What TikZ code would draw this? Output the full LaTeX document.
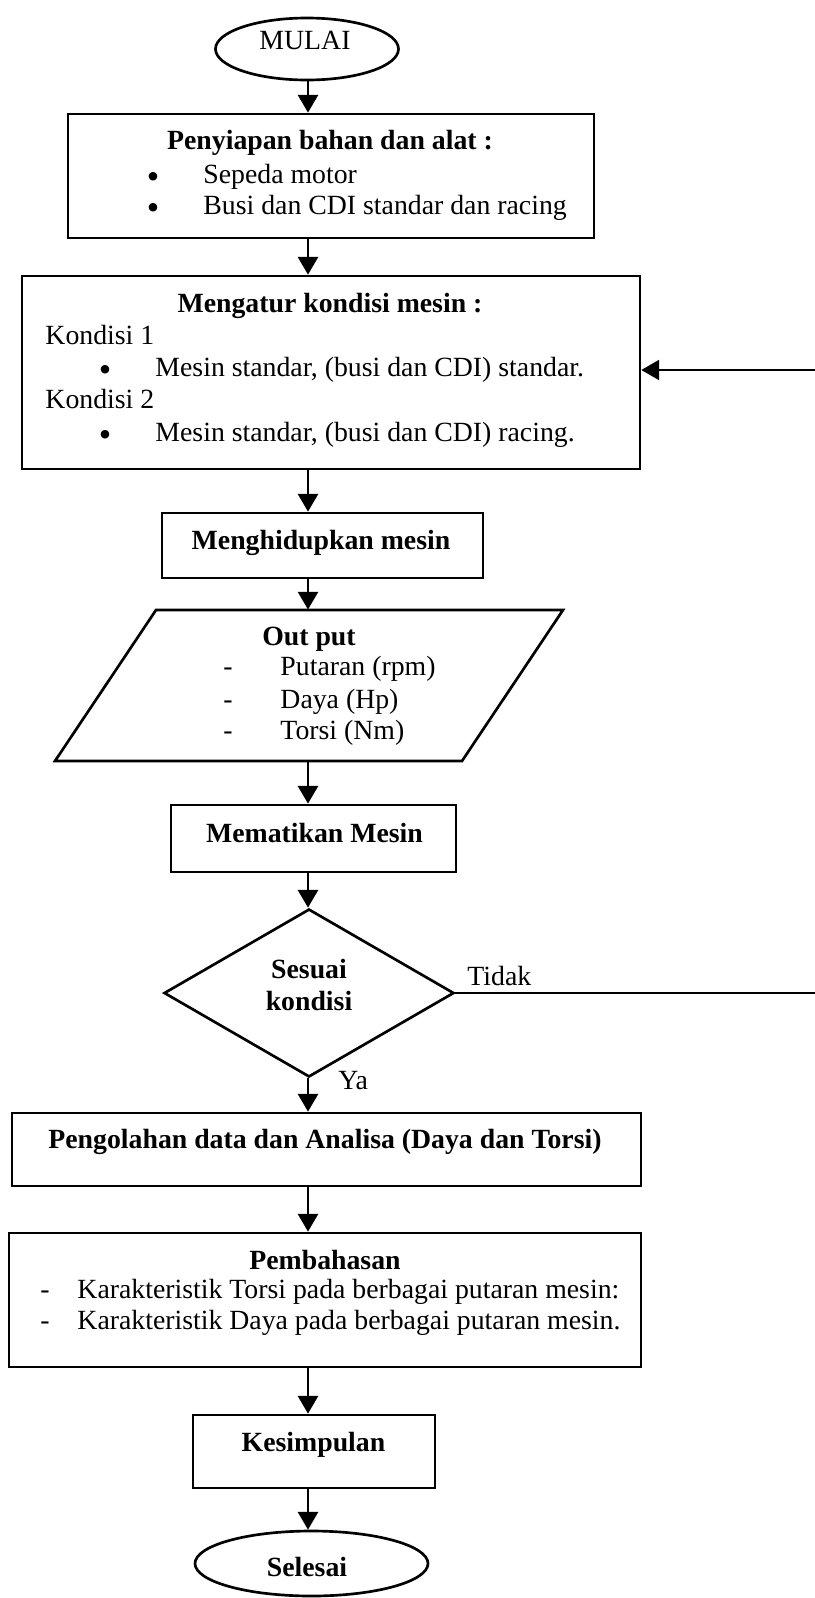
\documentclass[tikz,border=0pt]{standalone}
\usepackage{fontspec}
\setmainfont{Liberation Serif}
\usetikzlibrary{shapes.geometric}
\usetikzlibrary{arrows.meta}

\newcommand{\pxu}{0.45pt}

\tikzset{
  kotak/.style={draw, line width=1.2pt, inner sep=0pt},
  teks/.style={inner sep=0pt, text height=8pt, text depth=2.5pt, font=\fontsize{12.5}{14}\selectfont},
  tebal/.style={teks, font=\fontsize{12.5}{14}\selectfont\bfseries},
  titik/.style={inner sep=0pt, text height=10.6pt, text depth=0pt, font=\fontsize{16}{16}\selectfont},
  panah/.style={line width=1.2pt, -{Triangle[length=8pt,width=9pt]}},
  balik/.style={line width=0.9pt, -{Triangle[length=8pt,width=9pt]}},
}

\begin{document}
\begin{tikzpicture}[x=\pxu, y=-\pxu]
  \useasboundingbox (0,0) rectangle (814,1598);

  %% bentuk
  \node[kotak, ellipse, minimum width=183*\pxu, minimum height=62*\pxu] (mulai) at (307,49) {};
  \node[kotak, minimum width=526*\pxu, minimum height=124*\pxu] (siapbahan) at (331,176) {};
  \node[kotak, minimum width=618*\pxu, minimum height=193*\pxu] (atur) at (331,372.5) {};
  \node[kotak, minimum width=321*\pxu, minimum height=65*\pxu] (hidup) at (322.5,545.5) {};
  \node[inner sep=0pt, minimum width=508*\pxu, minimum height=151*\pxu] (keluaran) at (309,685.5) {};
  \draw[line width=1.2pt, line join=miter] (156,610) -- (563,610) -- (462,761) -- (55,761) -- cycle;
  \node[kotak, minimum width=285*\pxu, minimum height=67*\pxu] (mati) at (313.5,838.5) {};
  \node[kotak, diamond, minimum width=290*\pxu, minimum height=168*\pxu] (cek) at (309,993) {};
  \node[kotak, minimum width=629*\pxu, minimum height=73*\pxu] (olah) at (326.5,1149.5) {};
  \node[kotak, minimum width=632*\pxu, minimum height=134*\pxu] (bahas) at (325,1300) {};
  \node[kotak, minimum width=242*\pxu, minimum height=73*\pxu] (simpul) at (314,1451.5) {};
  \node[kotak, ellipse, minimum width=233*\pxu, minimum height=65*\pxu] (selesai) at (311.5,1563.5) {};

  %% teks
  \node[teks] (t-mulai) at (305,43) {MULAI};
  \node[tebal] (t-siap) at (330,143) {Penyiapan bahan dan alat :};
  \node[inner sep=0pt, anchor=base, font=\fontsize{16}{16}\selectfont] (b-siap) at (153,188.8)
    {\baselineskip=13.95pt\vtop{\hbox{\textbullet}\hbox{\textbullet}}};
  \node[teks, anchor=west] (t-siap1) at (203,177) {Sepeda motor};
  \node[teks, anchor=west] (t-siap2) at (203,208) {Busi dan CDI standar dan racing};
  \node[tebal] (t-atur) at (330,306) {Mengatur kondisi mesin :};
  \node[teks, anchor=west] (t-kond1) at (45,338) {Kondisi 1};
  \node[titik] (b-kond1) at (105,370) {\textbullet};
  \node[teks, anchor=west] (t-mesin1) at (155,370) {Mesin standar, (busi dan CDI) standar.};
  \node[teks, anchor=west] (t-kond2) at (45,402) {Kondisi 2};
  \node[titik] (b-kond2) at (105,435) {\textbullet};
  \node[teks, anchor=west] (t-mesin2) at (155,435) {Mesin standar, (busi dan CDI) racing.};
  \node[tebal] (t-hidup) at (321,543) {Menghidupkan mesin};
  \node[tebal] (t-out) at (309,639) {Out put};
  \node[teks] (d-out1) at (228,669) {-};
  \node[teks, anchor=west] (t-out1) at (280,669) {Putaran (rpm)};
  \node[teks] (d-out2) at (228,702) {-};
  \node[teks, anchor=west] (t-out2) at (280,702) {Daya (Hp)};
  \node[teks] (d-out3) at (228,733) {-};
  \node[teks, anchor=west] (t-out3) at (280,733) {Torsi (Nm)};
  \node[tebal] (t-mati) at (314.5,836) {Mematikan Mesin};
  \node[tebal] (t-cek1) at (309,972) {Sesuai};
  \node[tebal] (t-cek2) at (309,1004) {kondisi};
  \node[teks, anchor=west] (t-tidak) at (467,979) {Tidak};
  \node[teks, anchor=west] (t-ya) at (338,1083) {Ya};
  \node[tebal] (t-olah) at (325,1142) {Pengolahan data dan Analisa (Daya dan Torsi)};
  \node[tebal] (t-bahas) at (325,1263) {Pembahasan};
  \node[teks] (d-bahas1) at (45,1292) {-};
  \node[teks, anchor=west] (t-bahas1) at (77,1292) {Karakteristik Torsi pada berbagai putaran mesin:};
  \node[teks] (d-bahas2) at (45,1323) {-};
  \node[teks, anchor=west] (t-bahas2) at (77,1323) {Karakteristik Daya pada berbagai putaran mesin.};
  \node[tebal] (t-simpul) at (313.5,1445) {Kesimpulan};
  \node[tebal] (t-selesai) at (307,1570) {Selesai};

  %% panah
  \coordinate (tulang) at (308,0);
  \coordinate (kanan1) at (822,370);
  \coordinate (kanan2) at (822,994);
  \draw[panah] (mulai.south -| tulang) -- (siapbahan.north -| tulang);
  \draw[panah] (siapbahan.south -| tulang) -- (atur.north -| tulang);
  \draw[panah] (atur.south -| tulang) -- (hidup.north -| tulang);
  \draw[panah] (hidup.south -| tulang) -- (keluaran.north -| tulang);
  \draw[panah] (keluaran.south -| tulang) -- (mati.north -| tulang);
  \draw[panah] (mati.south -| tulang) -- (cek.north -| tulang);
  \draw[panah] (cek.south -| tulang) -- (olah.north -| tulang);
  \draw[panah] (olah.south -| tulang) -- (bahas.north -| tulang);
  \draw[panah] (bahas.south -| tulang) -- (simpul.north -| tulang);
  \draw[panah] (simpul.south -| tulang) -- (selesai.north -| tulang);
  \draw[balik] (cek.east) -- (cek.east -| kanan2) -- (kanan1) -- (kanan1 -| atur.east);
\end{tikzpicture}
\end{document}
